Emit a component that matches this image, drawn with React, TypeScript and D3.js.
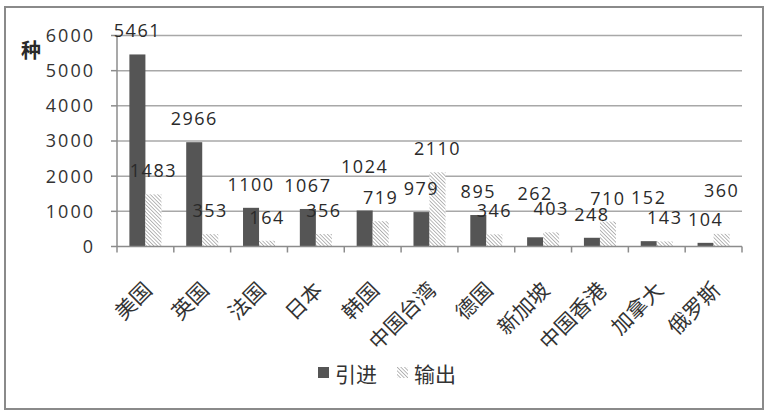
import React from "react";
import * as d3 from "d3";

const categories = ["美国", "英国", "法国", "日本", "韩国", "中国台湾", "德国", "新加坡", "中国香港", "加拿大", "俄罗斯"];
const series = ["引进", "输出"];
const importValues = [5461, 2966, 1100, 1067, 1024, 979, 895, 262, 248, 152, 104];
const exportValues = [1483, 353, 164, 356, 719, 2110, 346, 403, 710, 143, 360];
const yTicks = [0, 1000, 2000, 3000, 4000, 5000, 6000];
const yUnit = "种";
// labels that the original author nudged upward to avoid overlaps: [category, series]
const raisedLabels: [string, string][] = [
  ["韩国", "引进"],
  ["新加坡", "引进"],
  ["加拿大", "引进"],
  ["俄罗斯", "输出"],
];

const W = 771;
const H = 416;
const plot = { left: 117, right: 742, top: 35.5, bottom: 246.5 };
const numFont = "'Open Sans', 'Liberation Sans', sans-serif";
const cjkFont = "'Noto Sans CJK SC', 'Noto Sans', sans-serif";

export default function App() {
  const x0 = d3.scaleBand<string>().domain(categories).range([plot.left, plot.right]).padding(0);
  const bw = x0.bandwidth();
  const barW = bw * 0.282;
  const x1 = d3
    .scaleBand<string>()
    .domain(series)
    .range([(bw - 2 * barW) / 2, (bw + 2 * barW) / 2])
    .padding(0);
  const y = d3.scaleLinear().domain([0, 6000]).range([plot.bottom, plot.top]);

  const rows = categories.map((c, i) => ({
    cat: c,
    vals: [
      { s: series[0], v: importValues[i] },
      { s: series[1], v: exportValues[i] },
    ],
  }));

  const isRaised = (c: string, s: string) => raisedLabels.some(([rc, rs]) => rc === c && rs === s);
  const textColor = "#333333";

  return (
    <svg
      width={W}
      height={H}
      viewBox={`0 0 ${W} ${H}`}
      style={{ position: "absolute", left: 0, top: 0, background: "#fff" }}
    >
      <defs>
        <pattern id="hatch" patternUnits="userSpaceOnUse" width="2.6" height="2.6" patternTransform="rotate(-45)">
          <rect width="2.6" height="2.6" fill="#ffffff" />
          <line x1="0" y1="0" x2="0" y2="2.6" stroke="#9a9a9a" strokeWidth="1.4" />
        </pattern>
      </defs>
      <rect x={0} y={0} width={W} height={H} fill="#fff" />
      <rect x={5} y={7} width={758} height={402} fill="none" stroke="#8a8a8a" strokeWidth={2} />

      {/* gridlines */}
      {yTicks.slice(1).map((t) => (
        <line key={"g" + t} x1={plot.left} x2={plot.right} y1={y(t)} y2={y(t)} stroke="#a8a8a8" strokeWidth={1.5} />
      ))}
      {/* y axis */}
      <line x1={plot.left} x2={plot.left} y1={plot.top} y2={plot.bottom} stroke="#8c8c8c" strokeWidth={1.5} />
      {yTicks.map((t) => (
        <g key={"yt" + t}>
          <line x1={plot.left - 6} x2={plot.left} y1={y(t)} y2={y(t)} stroke="#8c8c8c" strokeWidth={1.5} />
          <text
            x={95}
            y={y(t)}
            dy="0.36em"
            textAnchor="end"
            fontFamily={numFont}
            fontSize={18}
            letterSpacing={2}
            fill={textColor}
          >
            {t}
          </text>
        </g>
      ))}
      <text x={31} y={58} textAnchor="middle" fontFamily={cjkFont} fontSize={20} fontWeight={600} fill="#2a2a2a">
        {yUnit}
      </text>

      {/* bars */}
      {rows.map((r) => (
        <g key={r.cat} transform={`translate(${x0(r.cat)},0)`}>
          {r.vals.map((d, j) => (
            <rect
              key={d.s}
              x={x1(d.s)}
              y={y(d.v)}
              width={x1.bandwidth()}
              height={y(0) - y(d.v)}
              fill={j === 0 ? "#555555" : "url(#hatch)"}
            />
          ))}
        </g>
      ))}

      {/* x axis */}
      <line x1={plot.left} x2={plot.right} y1={y(0)} y2={y(0)} stroke="#8c8c8c" strokeWidth={1.5} />
      {categories.map((c) => (
        <line key={"xt" + c} x1={x0(c)} x2={x0(c)} y1={y(0)} y2={y(0) + 6} stroke="#8c8c8c" strokeWidth={1.5} />
      ))}
      <line x1={plot.right} x2={plot.right} y1={y(0)} y2={y(0) + 6} stroke="#8c8c8c" strokeWidth={1.5} />

      {/* data labels */}
      {rows.map((r) =>
        r.vals.map((d) => {
          const cx = (x0(r.cat) as number) + (x1(d.s) as number) + x1.bandwidth() / 2;
          const lift = isRaised(r.cat, d.s) ? 20 : 0;
          return (
            <text
              key={r.cat + d.s}
              x={cx}
              y={y(d.v) - 17 - lift}
              textAnchor="middle"
              fontFamily={numFont}
              fontSize={18}
              letterSpacing={1.5}
              fill="#2a2a2a"
            >
              {d.v}
            </text>
          );
        })
      )}

      {/* category labels */}
      {categories.map((c) => {
        const cx = (x0(c) as number) + bw / 2;
        return (
          <text
            key={"cl" + c}
            transform={`translate(${cx + 8},${y(0) + 45}) rotate(-45)`}
            textAnchor="end"
            fontFamily={cjkFont}
            fontSize={21}
            fill="#333"
          >
            {c}
          </text>
        );
      })}

      {/* legend */}
      <rect x={318} y={367} width={11} height={11} fill="#555555" />
      <text x={335} y={382} fontFamily={cjkFont} fontSize={21} fill="#333">
        {series[0]}
      </text>
      <rect x={397} y={367} width={11} height={11} fill="url(#hatch)" />
      <text x={414} y={382} fontFamily={cjkFont} fontSize={21} fill="#333">
        {series[1]}
      </text>
    </svg>
  );
}
